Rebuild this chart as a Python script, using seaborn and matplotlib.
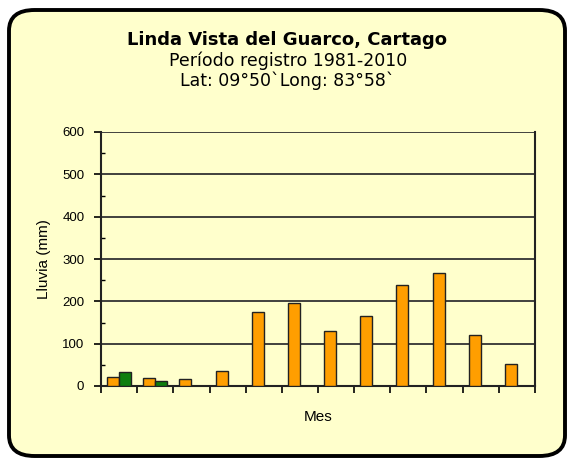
import pandas as pd
import matplotlib.pyplot as plt
import seaborn as sns
from matplotlib.patches import FancyBboxPatch
from matplotlib.ticker import MultipleLocator

# --- data (mm) ---
meses = ['Ene', 'Feb', 'Mar', 'Abr', 'May', 'Jun', 'Jul', 'Ago', 'Set', 'Oct', 'Nov', 'Dic']
lluvia = [22, 18, 16, 36, 174, 195, 129, 165, 239, 267, 121, 52]
serie_verde = [33, 12, 0, 0, 0, 0, 0, 0, 0, 0, 0, 0]

df = pd.DataFrame({'Mes': meses * 2,
                   'Lluvia': lluvia + serie_verde,
                   'Serie': ['Lluvia'] * 12 + ['Otra'] * 12})

W, H = 569, 459
bg = '#FFFFCC'

sns.set_style('white')
plt.rcParams['font.family'] = ['DejaVu Sans']
plt.rcParams['text.color'] = 'black'

fig = plt.figure(figsize=(W / 100, H / 100), dpi=100)
fig.patch.set_facecolor('white')

# rounded frame behind everything
frame = FancyBboxPatch((9 / W, 3 / H), (556 / W), (446 / H),
                       boxstyle='round,pad=0,rounding_size=0.045',
                       transform=fig.transFigure, facecolor=bg,
                       edgecolor='black', linewidth=2.8, zorder=-10)
fig.patches.append(frame)

ax = fig.add_axes([101 / W, 1 - 386 / H, (535 - 101) / W, (386 - 132) / H])
ax.set_zorder(5)
ax.set_facecolor(bg)

sns.barplot(data=df, x='Mes', y='Lluvia', hue='Serie', order=meses,
            palette=['#FF9E00', '#0E7E0E'], saturation=1, width=0.66, dodge=True,
            edgecolor='#222222', linewidth=1.0, legend=False, ax=ax, zorder=3)

ax.set_ylim(0, 600)
ax.set_xlim(-0.5, 11.5)
ax.yaxis.set_major_locator(MultipleLocator(100))
ax.yaxis.set_minor_locator(MultipleLocator(50))
ax.grid(axis='y', which='major', color='#333333', linewidth=1.3, zorder=0)
ax.set_axisbelow(True)
ax.set_xticks([i + 0.5 for i in range(-1, 12)])
ax.set_xticklabels([])
ax.tick_params(axis='x', which='major', direction='out', length=5, width=1.2, color='black',
               bottom=True)
ax.tick_params(axis='y', which='major', direction='out', length=5, width=1.2, color='black',
               labelsize=9.5, labelcolor='black', pad=7, left=True)
ax.tick_params(axis='y', which='minor', direction='in', length=3, width=1, color='black',
               left=True)
for lab in ax.get_yticklabels():
    lab.set_family('Liberation Sans')

for side in ['left', 'right', 'bottom']:
    ax.spines[side].set_visible(True)
    ax.spines[side].set_color('#222222')
    ax.spines[side].set_linewidth(1.5)
ax.spines['top'].set_visible(False)

ax.set_ylabel('Lluvia (mm)', family='Liberation Sans', fontsize=11, color='black', labelpad=8)
ax.set_xlabel('Mes', family='Liberation Sans', fontsize=11, color='black', labelpad=9)

fig.text(287 / W, 1 - 40 / H, 'Linda Vista del Guarco, Cartago', ha='center', va='center',
         fontsize=13, fontweight='bold')
fig.text(288 / W, 1 - 61 / H, 'Período registro 1981-2010', ha='center', va='center',
         fontsize=12.5)
fig.text(287 / W, 1 - 81 / H, 'Lat: 09°50`Long: 83°58`', ha='center', va='center',
         fontsize=12.5)

fig.savefig('out.png', dpi=100)
